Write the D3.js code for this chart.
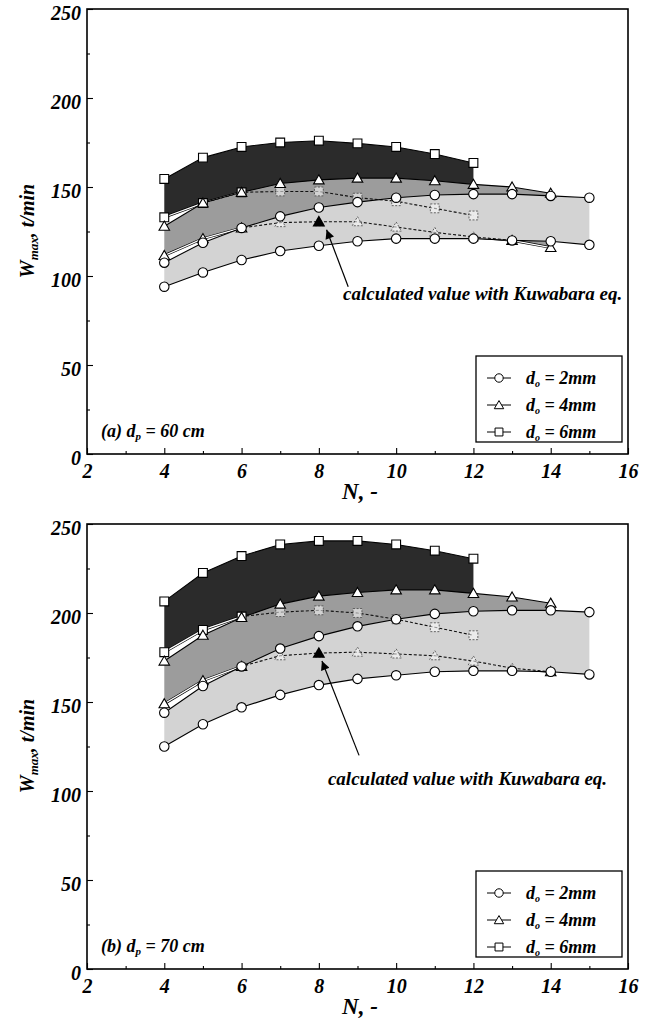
<!DOCTYPE html>
<html>
<head>
<meta charset="utf-8">
<script src="https://cdn.jsdelivr.net/npm/d3@7"></script>
<style>
  body { margin: 0; background: #fff; }
  text { font-family: "Liberation Serif", "Times New Roman", serif; font-weight: bold; font-style: italic; }
</style>
</head>
<body>
<svg id="chart" width="655" height="1025"></svg>
<script>
// number of orifices N for each nozzle size
const nFor2mm = [4, 5, 6, 7, 8, 9, 10, 11, 12, 13, 14, 15];
const nFor4mm = [4, 5, 6, 7, 8, 9, 10, 11, 12, 13, 14];
const nFor6mm = [4, 5, 6, 7, 8, 9, 10, 11, 12];

// (a) dp = 60 cm  -- Wmax, t/min (upper / lower limits)
const a2mmHi = [107.5, 118.7, 127, 133.5, 138.5, 141.5, 144, 145.5, 146, 146, 145, 144];
const a2mmLo = [94, 102, 109, 114, 117, 119.5, 121, 121, 121, 120, 119.5, 117.5];
const a4mmHi = [128, 141, 147, 152, 154, 155, 155, 153.5, 151.5, 150, 146.5];
const a4mmLo = [111.5, 121, 127, 130, 130.5, 130.5, 127.5, 124.5, 122, 120, 116];
const a6mmHi = [154.5, 166.5, 172.5, 175, 176, 174.5, 172.5, 168.5, 163.5];
const a6mmLo = [133, 141, 147, 147.5, 147.5, 144, 142, 138, 134];
const aKuwabara = { n: 8, w: 130.5 };

// (b) dp = 70 cm
const b2mmHi = [144, 159, 170, 180, 187, 192.5, 196.5, 199.5, 201, 201.5, 201.5, 200.5];
const b2mmLo = [125, 137.5, 147, 154, 159.5, 163, 165, 167, 167.5, 167.5, 167, 165.5];
const b4mmHi = [173, 187.5, 197.5, 205, 209.5, 211.5, 213, 213, 211, 209, 205.5];
const b4mmLo = [149, 162, 170, 176, 177.5, 178, 177, 176, 173, 169, 167];
const b6mmHi = [206.5, 222.5, 232, 238.5, 240.5, 240.5, 238.5, 235, 230.5];
const b6mmLo = [178, 190.5, 198, 200.5, 201.5, 200, 196.5, 192, 187.5];
const bKuwabara = { n: 8, w: 177.5 };

const xTicks = [2, 4, 6, 8, 10, 12, 14, 16];
const xMinor = [3, 5, 7, 9, 11, 13, 15];
const yTicks = [0, 50, 100, 150, 200, 250];
const yMinor = [25, 75, 125, 175, 225];
const legendLabels = ["2mm", "4mm", "6mm"];

const svg = d3.select("#chart");
const x = d3.scaleLinear().domain([2, 16]).range([87, 628]);

const panels = [
  { id: "a", tag: "(a)", dp: "60 cm", top: 9, bottom: 454,
    hi: [a2mmHi, a4mmHi, a6mmHi], lo: [a2mmLo, a4mmLo, a6mmLo], calc: aKuwabara,
    arrowFrom: [8.76, 94], arrowTo: [8.2, 126], note: [15.85, 86.5] },
  { id: "b", tag: "(b)", dp: "70 cm", top: 524, bottom: 969,
    hi: [b2mmHi, b4mmHi, b6mmHi], lo: [b2mmLo, b4mmLo, b6mmLo], calc: bKuwabara,
    arrowFrom: [9.04, 120], arrowTo: [8.08, 173], note: [15.46, 103.5] }
];

svg.append("defs").append("marker")
  .attr("id", "head").attr("viewBox", "0 0 10 10").attr("refX", 10).attr("refY", 5)
  .attr("markerWidth", 11).attr("markerHeight", 9).attr("markerUnits", "userSpaceOnUse")
  .attr("orient", "auto")
  .append("path").attr("d", "M0,0L10,5L0,10z").attr("fill", "#000");

function drawPanel(p) {
  const y = d3.scaleLinear().domain([0, 250]).range([p.bottom, p.top]);
  const g = svg.append("g");

  // drawn from the biggest nozzle to the smallest, as in the figure
  const series = [
    { key: "6", n: nFor6mm, hi: p.hi[2], lo: p.lo[2], fill: "#2b2b2b", sym: d3.symbolSquare, size: 78 },
    { key: "4", n: nFor4mm, hi: p.hi[1], lo: p.lo[1], fill: "#9c9c9c", sym: d3.symbolTriangle, size: 48 },
    { key: "2", n: nFor2mm, hi: p.hi[0], lo: p.lo[0], fill: "#d3d3d3", sym: d3.symbolCircle, size: 70 }
  ];
  series.forEach(s => { s.pts = s.n.map((n, i) => ({ n: n, hi: s.hi[i], lo: s.lo[i] })); });

  const area = d3.area().x(d => x(d.n)).y0(d => y(d.lo)).y1(d => y(d.hi));
  const lineHi = d3.line().x(d => x(d.n)).y(d => y(d.hi));
  const lineLo = d3.line().x(d => x(d.n)).y(d => y(d.lo));

  // is a point hidden by a band drawn later?
  function hidden(k, n, w) {
    return series.slice(k + 1).some(t => {
      const i = t.n.indexOf(n);
      return i >= 0 && w < t.hi[i] - 0.8 && w > t.lo[i] + 0.8;
    });
  }

  series.forEach((s, k) => {
    const cp = g.append("clipPath").attr("id", "clip" + p.id + s.key);
    series.slice(k + 1).forEach(t => cp.append("path").attr("d", area(t.pts)));
  });

  series.forEach((s, k) => {
    g.append("path").attr("d", area(s.pts)).attr("fill", s.fill);
    if (k < 2) {
      g.append("path").attr("d", lineLo(s.pts)).attr("fill", "none").attr("stroke", "#000").attr("stroke-width", 2.6);
      g.append("path").attr("d", lineLo(s.pts)).attr("fill", "none").attr("stroke", "#fff").attr("stroke-width", 1.3);
    }
  });

  // lower limits that run underneath other bands
  series.slice(0, 2).forEach(s => {
    g.append("path").attr("d", lineLo(s.pts)).attr("fill", "none")
      .attr("stroke", "#111").attr("stroke-width", 1.1).attr("stroke-dasharray", "3,2")
      .attr("clip-path", "url(#clip" + p.id + s.key + ")");
  });

  series.forEach((s, k) => {
    g.append("path").attr("d", lineHi(s.pts)).attr("fill", "none").attr("stroke", "#000").attr("stroke-width", 1.1);
    if (k === 2) g.append("path").attr("d", lineLo(s.pts)).attr("fill", "none").attr("stroke", "#000").attr("stroke-width", 1.1);
  });

  series.forEach((s, k) => {
    const sym = d3.symbol().type(s.sym).size(s.size);
    const marks = [];
    s.pts.forEach(d => {
      marks.push({ n: d.n, w: d.hi, ghost: false });
      marks.push({ n: d.n, w: d.lo, ghost: hidden(k, d.n, d.lo) });
    });
    g.selectAll(null).data(marks).join("path")
      .attr("d", sym)
      .attr("transform", d => `translate(${x(d.n)},${y(d.w) + (s.key === "4" ? 1 : 0)})`)
      .attr("fill", "#fff")
      .attr("fill-opacity", d => d.ghost ? 0.55 : 1)
      .attr("stroke", d => d.ghost ? "#444" : "#000")
      .attr("stroke-width", d => d.ghost ? 0.8 : 1.1)
      .attr("stroke-dasharray", d => d.ghost ? "2,1.5" : null);
  });

  // Kuwabara value
  g.append("path").attr("d", d3.symbol().type(d3.symbolTriangle).size(70))
    .attr("transform", `translate(${x(p.calc.n)},${y(p.calc.w) + 1})`).attr("fill", "#000");

  g.append("line")
    .attr("x1", x(p.arrowFrom[0])).attr("y1", y(p.arrowFrom[1]))
    .attr("x2", x(p.arrowTo[0])).attr("y2", y(p.arrowTo[1]))
    .attr("stroke", "#000").attr("stroke-width", 1.2).attr("marker-end", "url(#head)");
  g.append("text").attr("x", x(p.note[0])).attr("y", y(p.note[1]))
    .attr("text-anchor", "end").attr("font-size", 19).text("calculated value with Kuwabara eq.");

  // axes
  const xAxis = g.append("g").attr("transform", `translate(0,${p.bottom})`)
    .call(d3.axisBottom(x).tickValues(xTicks).tickSize(-6).tickPadding(10).tickFormat(d3.format("d")));
  g.append("g").attr("transform", `translate(0,${p.bottom})`)
    .call(d3.axisBottom(x).tickValues(xMinor).tickSize(-3).tickFormat(""));
  const yAxis = g.append("g").attr("transform", `translate(${x(2)},0)`)
    .call(d3.axisLeft(y).tickValues(yTicks).tickSize(-6).tickPadding(6).tickFormat(d3.format("d")));
  g.append("g").attr("transform", `translate(${x(2)},0)`)
    .call(d3.axisLeft(y).tickValues(yMinor).tickSize(-3).tickFormat(""));
  g.selectAll(".domain").remove();
  g.selectAll(".tick line").attr("stroke", "#000").attr("stroke-width", 1.1);
  xAxis.selectAll("text").attr("font-size", 20).attr("fill", "#000");
  yAxis.selectAll("text").attr("font-size", 20).attr("fill", "#000").attr("dy", "0.5em");

  g.append("rect").attr("x", x(2)).attr("y", p.top).attr("width", x(16) - x(2)).attr("height", p.bottom - p.top)
    .attr("fill", "none").attr("stroke", "#000").attr("stroke-width", 1.6);

  // axis titles
  g.append("text").attr("x", 360).attr("y", p.bottom + 45).attr("text-anchor", "middle")
    .attr("font-size", 23).text("N,  -");
  const yt = g.append("text").attr("transform", `translate(34,${p.top + 222}) rotate(-90)`)
    .attr("text-anchor", "middle").attr("font-size", 20);
  yt.append("tspan").text("W");
  yt.append("tspan").attr("font-size", 13).attr("dy", 4).text("max");
  yt.append("tspan").attr("dy", -4).text(",  t/min");

  // panel tag
  const tg = g.append("text").attr("x", 101).attr("y", p.bottom - 17).attr("font-size", 18);
  tg.append("tspan").text(p.tag + " d");
  tg.append("tspan").attr("font-size", 11).attr("dy", 3).text("p");
  tg.append("tspan").attr("dy", -3).text(" = " + p.dp);

  // legend
  const lx = 476, lw = 146, lh = 86, ly = p.bottom - 12 - lh;
  const lg = g.append("g");
  lg.append("rect").attr("x", lx).attr("y", ly).attr("width", lw).attr("height", lh)
    .attr("fill", "#fff").attr("stroke", "#000").attr("stroke-width", 1.3);
  const legSeries = [series[2], series[1], series[0]];
  legendLabels.forEach((lab, i) => {
    const ry = ly + 22 + i * 27;
    lg.append("line").attr("x1", lx + 11).attr("x2", lx + 35).attr("y1", ry).attr("y2", ry)
      .attr("stroke", "#000").attr("stroke-width", 1);
    lg.append("path").attr("d", d3.symbol().type(legSeries[i].sym).size(legSeries[i].size * 0.8))
      .attr("transform", `translate(${lx + 23},${ry + (i === 1 ? 1 : 0)})`)
      .attr("fill", "#fff").attr("stroke", "#000").attr("stroke-width", 1);
    const t = lg.append("text").attr("x", lx + 50).attr("y", ry + 6).attr("font-size", 18);
    t.append("tspan").text("d");
    t.append("tspan").attr("font-size", 10).attr("dy", 3).text("o");
    t.append("tspan").attr("dy", -3).text(" = " + lab);
  });
}

panels.forEach(drawPanel);
</script>
</body>
</html>
